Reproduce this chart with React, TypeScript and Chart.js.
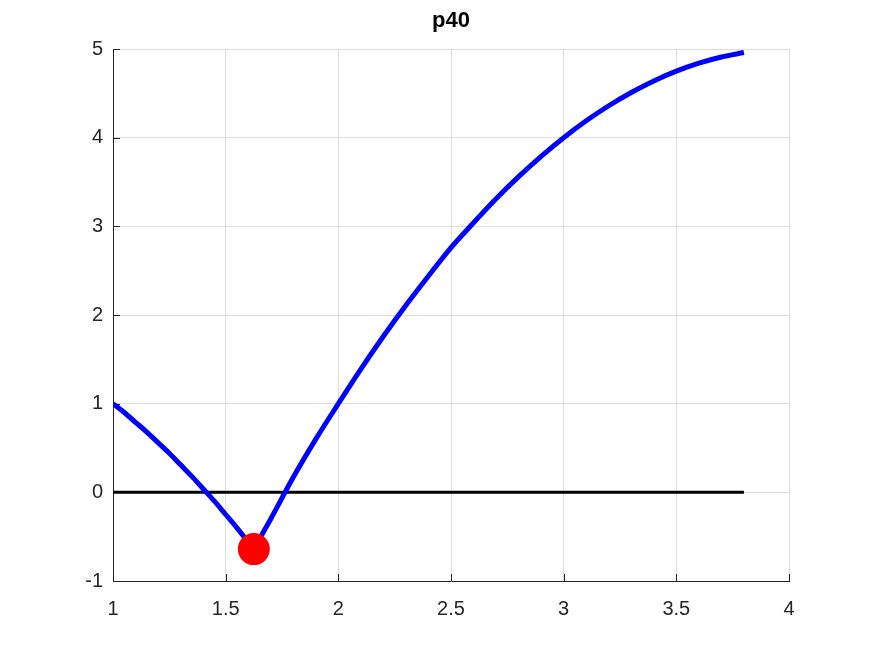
import React, { useEffect, useRef } from "react";
import { Chart, registerables } from "chart.js";

Chart.register(...registerables);

const titleText = "p40";

// Descending branch (x from 1 to the minimum)
const leftX = [1.0, 1.05, 1.1, 1.15, 1.2, 1.25, 1.3, 1.35, 1.4, 1.45, 1.5, 1.55, 1.6, 1.625];
const leftY = [1.0, 0.9, 0.79, 0.68, 0.56, 0.44, 0.31, 0.18, 0.04, -0.1, -0.25, -0.4, -0.56, -0.64];

// Rising branch (from the minimum to x = 3.8)
const rightX = [1.625, 1.7, 1.8, 1.9, 2.0, 2.1, 2.2, 2.3, 2.4, 2.5, 2.6, 2.7, 2.8, 2.9, 3.0, 3.1, 3.2, 3.3, 3.4, 3.5, 3.6, 3.7, 3.8];
const rightY = [-0.64, -0.3, 0.17, 0.6, 1.0, 1.39, 1.76, 2.11, 2.44, 2.76, 3.04, 3.31, 3.56, 3.79, 4.0, 4.19, 4.36, 4.51, 4.64, 4.75, 4.84, 4.91, 4.96];

// Zero reference line
const zeroX = [1.0, 3.8];
const zeroY = [0, 0];

// Marked minimum
const minX = [1.625];
const minY = [-0.64];

const xTicks = [1, 1.5, 2, 2.5, 3, 3.5, 4];
const yTicks = [-1, 0, 1, 2, 3, 4, 5];

const toPts = (xs: number[], ys: number[]) => xs.map((x, i) => ({ x, y: ys[i] }));

const AXIS_COLOR = "#262626";
const FONT = "'Liberation Sans', Arial, sans-serif";

const inwardTicks = {
  id: "inwardTicks",
  beforeDatasetsDraw(chart: any) {
    const { ctx, chartArea, scales } = chart;
    const len = 7;
    ctx.save();
    ctx.strokeStyle = AXIS_COLOR;
    ctx.lineWidth = 1;
    ctx.beginPath();
    for (const v of xTicks) {
      const px = Math.round(scales.x.getPixelForValue(v)) + 0.5;
      ctx.moveTo(px, chartArea.bottom);
      ctx.lineTo(px, chartArea.bottom - len);
    }
    for (const v of yTicks) {
      const py = Math.round(scales.y.getPixelForValue(v)) + 0.5;
      ctx.moveTo(chartArea.left, py);
      ctx.lineTo(chartArea.left + len, py);
    }
    ctx.stroke();
    ctx.restore();
  },
};

const centeredTitle = {
  id: "centeredTitle",
  afterDraw(chart: any) {
    const { ctx, chartArea } = chart;
    ctx.save();
    ctx.fillStyle = "#000000";
    ctx.font = `bold 22px ${FONT}`;
    ctx.textAlign = "center";
    ctx.textBaseline = "alphabetic";
    ctx.fillText(titleText, (chartArea.left + chartArea.right) / 2, 27);
    ctx.restore();
  },
};

export default function App() {
  const ref = useRef<HTMLCanvasElement>(null);

  useEffect(() => {
    document.body.style.margin = "0";
    const canvas = ref.current!;
    const lineCommon = {
      borderColor: "#0000ff",
      borderWidth: 5,
      pointRadius: 0,
      cubicInterpolationMode: "monotone" as const,
      fill: false,
      order: 1,
    };
    const chart = new Chart(canvas, {
      type: "line",
      data: {
        datasets: [
          {
            data: toPts(minX, minY),
            showLine: false,
            pointRadius: 16,
            pointHoverRadius: 16,
            backgroundColor: "#ff0000",
            borderColor: "#ff0000",
            borderWidth: 0,
            order: 0,
          },
          { data: toPts(leftX, leftY), ...lineCommon },
          { data: toPts(rightX, rightY), ...lineCommon },
          {
            data: toPts(zeroX, zeroY),
            borderColor: "#000000",
            borderWidth: 3,
            pointRadius: 0,
            fill: false,
            order: 2,
          },
        ],
      },
      options: {
        responsive: false,
        animation: false,
        devicePixelRatio: 1,
        layout: { padding: { left: 0, right: 83, top: 49, bottom: 0 } },
        plugins: {
          legend: { display: false },
          tooltip: { enabled: false },
          title: { display: false },
        },
        scales: {
          x: {
            type: "linear",
            min: 1,
            max: 4,
            afterBuildTicks: (s: any) => {
              s.ticks = xTicks.map((v) => ({ value: v }));
            },
            afterFit: (s: any) => {
              s.height = 73;
            },
            grid: { color: "#dedede", drawTicks: false, lineWidth: 1 },
            border: { display: true, color: AXIS_COLOR, width: 1 },
            ticks: {
              color: AXIS_COLOR,
              font: { family: FONT, size: 20 },
              padding: 16,
              maxRotation: 0,
              callback: (v: any) => String(v),
            },
          },
          y: {
            type: "linear",
            min: -1,
            max: 5,
            afterBuildTicks: (s: any) => {
              s.ticks = yTicks.map((v) => ({ value: v }));
            },
            afterFit: (s: any) => {
              s.width = 113;
            },
            grid: { color: "#dedede", drawTicks: false, lineWidth: 1 },
            border: { display: true, color: AXIS_COLOR, width: 1 },
            ticks: {
              color: AXIS_COLOR,
              font: { family: FONT, size: 20 },
              padding: 10,
              callback: (v: any) => String(v),
            },
          },
        },
      },
      plugins: [inwardTicks, centeredTitle],
    });
    return () => chart.destroy();
  }, []);

  return (
    <div style={{ position: "absolute", left: 0, top: 0, width: 872, height: 654, background: "#fff" }}>
      <canvas ref={ref} width={872} height={654} />
    </div>
  );
}
